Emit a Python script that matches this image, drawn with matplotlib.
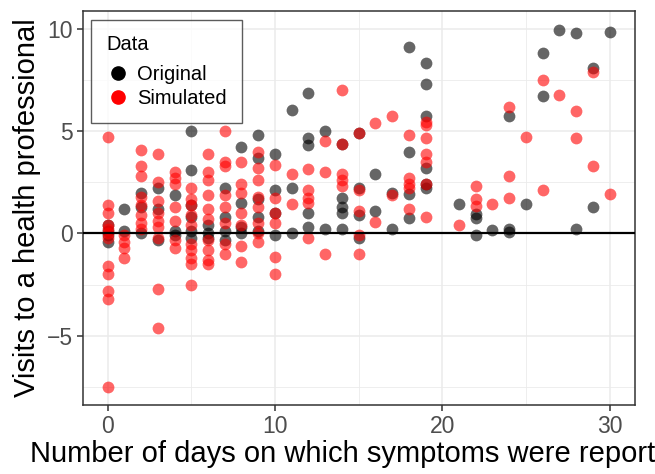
import matplotlib
matplotlib.use("Agg")
import matplotlib.pyplot as plt
from matplotlib.lines import Line2D
from matplotlib.ticker import MultipleLocator

plt.rcParams['font.family'] = ['Liberation Sans', 'DejaVu Sans']

# Observed visits per patient, by number of symptom days
orig_days = [0, 0, 0, 0,
             1, 1,
             2, 2, 2,
             3, 3, 3,
             4, 4, 4,
             5, 5, 5, 5, 5, 5,
             6, 6, 6,
             7, 7, 7, 7,
             8, 8, 8, 8,
             9, 9, 9, 9, 9,
             10, 10, 10, 10,
             11, 11, 11,
             12, 12, 12, 12, 12,
             13, 13,
             14, 14, 14, 14, 14,
             15, 15, 15, 15,
             16, 16,
             17, 17,
             18, 18, 18, 18,
             19, 19, 19, 19, 19, 19,
             21,
             22, 22, 22,
             23,
             24, 24, 24,
             25,
             26, 26,
             27,
             28, 28,
             29, 29,
             30]
orig_visits = [0.4, 0.1, -0.1, -0.4,
               1.2, 0.1,
               2.0, 1.3, 0.0,
               2.2, 1.2, -0.3,
               1.9, 0.1, -0.1,
               5.0, 3.1, 1.4, 0.8, 0.1, -0.2,
               0.4, 0.0, -0.2,
               2.2, 0.8, 0.1, -0.3,
               4.2, 1.5, 0.3, 0.0,
               4.8, 3.7, 1.7, 0.8, 0.1,
               3.9, 2.1, 1.0, -0.1,
               6.05, 2.2, 0.0,
               6.85, 4.66, 4.3, 1.0, 0.3,
               5.0, 0.24,
               4.35, 1.75, 1.3, 1.0, 0.24,
               4.9, 2.2, 0.9, -0.2,
               2.9, 1.1,
               2.0, 0.24,
               9.1, 4.0, 1.95, 0.73,
               8.35, 7.3, 5.73, 3.2, 2.4, 2.2,
               1.45,
               0.96, 0.73, -0.1,
               0.19,
               5.73, 0.24, 0.05,
               1.45,
               8.8, 6.7,
               9.95,
               9.8, 0.24,
               8.1, 1.27,
               9.85]

# Simulated visits
sim_days = [0, 0, 0, 0, 0, 0, 0, 0, 0, 0, 0, 0,
            1, 1, 1, 1,
            2, 2, 2, 2, 2, 2, 2, 2,
            3, 3, 3, 3, 3, 3, 3, 3, 3,
            4, 4, 4, 4, 4, 4, 4,
            5, 5, 5, 5, 5, 5, 5, 5, 5, 5,
            6, 6, 6, 6, 6, 6, 6, 6, 6, 6,
            7, 7, 7, 7, 7, 7, 7, 7,
            8, 8, 8, 8, 8, 8, 8,
            9, 9, 9, 9, 9, 9, 9, 9,
            10, 10, 10, 10, 10, 10,
            11, 11,
            12, 12, 12, 12, 12,
            13, 13, 13,
            14, 14, 14, 14, 14,
            15, 15, 15, 15, 15,
            16, 16,
            17, 17,
            18, 18, 18, 18, 18,
            19, 19, 19, 19, 19, 19, 19,
            21,
            22, 22, 22,
            23,
            24, 24, 24,
            25,
            26, 26,
            27,
            28, 28,
            29, 29,
            30]
sim_visits = [4.7, 1.4, 1.0, 0.4, 0.2, 0.0, -0.2, -1.6, -2.0, -2.8, -3.2, -7.5,
              -0.1, -0.4, -0.7, -1.2,
              4.1, 3.3, 2.8, 1.8, 1.4, 0.9, 0.5, 0.2,
              3.9, 2.5, 1.6, 1.0, 0.6, 0.3, -0.2, -2.7, -4.6,
              3.0, 2.7, 2.4, 1.3, 0.6, -0.3, -0.7,
              2.2, 1.7, 1.4, 0.9, 0.4, -0.5, -0.8, -1.2, -1.5, -2.5,
              3.9, 3.0, 2.6, 1.9, 1.2, 0.7, -0.3, -0.8, -1.3, -1.5,
              5.0, 3.5, 3.3, 1.9, 1.3, 0.5, -0.5, -1.0,
              3.5, 2.4, 2.0, 1.0, 0.4, -0.6, -1.4,
              4.0, 3.2, 2.6, 1.8, 1.3, 0.5, 0.0, -0.4,
              3.35, 1.75, 1.0, 0.5, -1.15, -2.0,
              2.9, 1.45,
              3.15, 2.1, 1.75, 1.5, -0.2,
              4.5, 3.0, -1.0,
              7.0, 4.35, 2.9, 2.6, 2.3,
              4.9, 2.1, 1.1, -0.1, -1.0,
              5.4, 0.55,
              5.75, 1.9,
              4.8, 2.7, 2.4, 2.2, 1.2,
              5.45, 5.3, 4.66, 3.9, 3.5, 2.4, 0.8,
              0.4,
              2.33, 1.7, 1.36,
              1.45,
              6.2, 2.8, 1.75,
              4.7,
              7.5, 2.1,
              6.75,
              6.0, 4.66,
              7.9, 3.3,
              1.95]

series_names = ["Original", "Simulated"]
series_colors = ["black", "red"]

fig = plt.figure(figsize=(6.55, 4.74), dpi=100)
ax = fig.add_axes([0.126, 0.146, 0.843, 0.831])

ax.scatter(orig_days, orig_visits, s=72, color=series_colors[0], alpha=0.6,
           linewidths=0, zorder=3)
ax.scatter(sim_days, sim_visits, s=72, color=series_colors[1], alpha=0.6,
           linewidths=0, zorder=3)
ax.axhline(0, color="black", lw=1.6, zorder=4)

# theme_bw look
ax.set_xlim(-1.5, 31.5)
ax.set_ylim(-8.375, 10.875)
ax.xaxis.set_major_locator(MultipleLocator(10))
ax.xaxis.set_minor_locator(MultipleLocator(5))
ax.yaxis.set_major_locator(MultipleLocator(5))
ax.yaxis.set_minor_locator(MultipleLocator(2.5))
ax.grid(which="major", color="#ebebeb", lw=1.1, zorder=0)
ax.grid(which="minor", color="#ebebeb", lw=0.6, zorder=0)
ax.set_axisbelow(True)
for sp in ax.spines.values():
    sp.set_color("#333333")
    sp.set_linewidth(1.1)
ax.tick_params(which="major", length=4, width=1.1, color="#333333",
               labelsize=16.5, labelcolor="#4d4d4d", pad=3)
ax.tick_params(which="minor", length=0)

ax.set_xlabel("Number of days on which symptoms were reported", fontsize=21,
              labelpad=2)
ax.set_ylabel("Visits to a health professional", fontsize=21, labelpad=4)

handles = [Line2D([], [], marker="o", ls="", color=c, markersize=9.5)
           for c in series_colors]
leg = ax.legend(handles, series_names, title="Data", loc="upper left",
                bbox_to_anchor=(0.015, 0.977), borderaxespad=0,
                fontsize=14.5, title_fontsize=14.5, frameon=True,
                fancybox=False, handletextpad=0.35, labelspacing=0.22,
                borderpad=0.75, handlelength=1.2)
leg._legend_box.align = "left"
leg._legend_box.sep = 8
leg.get_frame().set_edgecolor("#333333")
leg.get_frame().set_linewidth(1.0)

fig.savefig("out.png", dpi=100)
